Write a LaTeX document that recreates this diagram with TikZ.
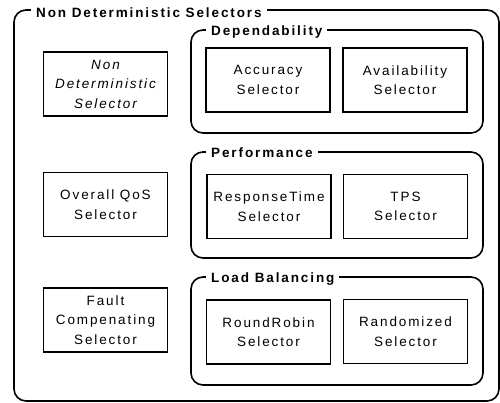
\documentclass[tikz,border=0pt]{standalone}
\usepackage{fontspec}
\setmainfont[LetterSpace=14]{Liberation Sans}
\begin{document}
\begin{tikzpicture}[x=1pt,y=-1pt,
  selector/.style={draw,line width=1.6pt,minimum width=124pt,minimum height=64pt,
    align=center,inner sep=0pt,font=\fontsize{13.5}{19.5}\selectfont},
  group/.style={draw,line width=1.6pt,rounded corners=12pt},
  grouptitle/.style={fill=white,inner xsep=5pt,inner ysep=1pt,anchor=base west,
    font=\fontsize{13.5}{16}\selectfont\bfseries}]
\useasboundingbox (0,0) rectangle (500,402);
% Outer frame
\draw[group] (14,10) rectangle (499,401);
\node[grouptitle] (alltitle) at (31,17) {Non Deterministic Selectors};
% Left column
\node[selector] (nondet) at (105.5,84) {\itshape Non\\\itshape Deterministic\\\itshape Selector};
\node[selector] (overall) at (105.5,204.5) {Overall QoS\\Selector};
\node[selector] (fault) at (105.5,320) {Fault\\Compenating\\Selector};
% Dependability
\draw[group] (191,30) rectangle (483,133);
\node[grouptitle] (deptitle) at (206,35) {Dependability};
\node[selector] (accuracy) at (268,80) {Accuracy\\Selector};
\node[selector] (availability) at (405,80) {Availability\\Selector};
% Performance
\draw[group] (191,152) rectangle (483,258);
\node[grouptitle] (perftitle) at (206,157) {Performance};
\node[selector] (response) at (269,206.5) {ResponseTime\\Selector};
\node[selector] (tps) at (405.5,206.5) {TPS\\Selector};
% Load balancing
\draw[group] (191,277) rectangle (483,385);
\node[grouptitle] (lbtitle) at (206,282) {Load Balancing};
\node[selector] (roundrobin) at (268.5,332) {RoundRobin\\Selector};
\node[selector] (randomized) at (405.5,331.5) {Randomized\\Selector};
\end{tikzpicture}
\end{document}
